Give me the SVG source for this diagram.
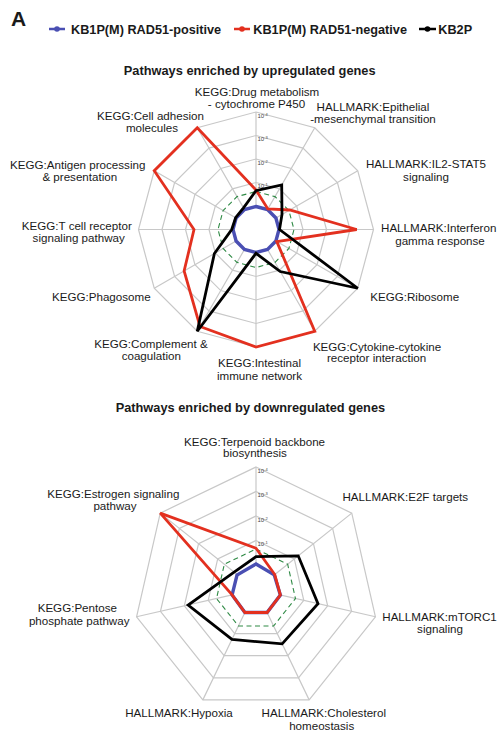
<svg xmlns="http://www.w3.org/2000/svg" width="497" height="732" viewBox="0 0 497 732">
<style>
text{font-family:"Liberation Sans",Arial,sans-serif;fill:#1a1a1a}
.lbl{font-size:11.6px;text-anchor:middle}
.ttl{font-size:12.8px;font-weight:bold;text-anchor:middle}
.leg{font-size:12.7px;font-weight:bold}
.tick{font-size:6px;fill:#444}
.tick tspan{font-size:4px}
.grid{fill:none;stroke:#c8c8c8;stroke-width:1.2}
.thr{fill:none;stroke:#2f8a45;stroke-width:1.1;stroke-dasharray:5 3.5}
.s{fill:none;stroke-width:2.8;stroke-linejoin:miter}
.blue{stroke:#4a4fb3;stroke-width:3.4}
.red{stroke:#e3301f}
.blk{stroke:#000}
</style>
<rect width="497" height="732" fill="#fff"/>
<text x="11" y="26" style="font-size:21px;font-weight:bold">A</text>
<g id="legend">
<line x1="49" y1="29" x2="65" y2="29" stroke="#4a4fb3" stroke-width="2.5"/><circle cx="57" cy="29" r="2.8" fill="#4a4fb3"/>
<text class="leg" x="71" y="33.5">KB1P(M) RAD51-positive</text>
<line x1="234" y1="29" x2="250" y2="29" stroke="#e3301f" stroke-width="2.5"/><circle cx="242" cy="29" r="2.8" fill="#e3301f"/>
<text class="leg" x="253.3" y="33.5">KB1P(M) RAD51-negative</text>
<line x1="419" y1="29" x2="436" y2="29" stroke="#000" stroke-width="2.5"/><circle cx="427.5" cy="29" r="2.8" fill="#000"/>
<text class="leg" x="438.3" y="33.5">KB2P</text>
</g>

<g id="radar-up">
<text class="ttl" x="249.7" y="74.5">Pathways enriched by upregulated genes</text>
<g id="grid-up">
<polygon class="grid" points="256,112 314.75,127.74 357.76,170.75 373.5,229.5 357.76,288.25 314.75,331.26 256,347 197.25,331.26 154.24,288.25 138.5,229.5 154.24,170.75 197.25,127.74"/>
<polygon class="grid" points="256,135.5 303,148.1 337.4,182.5 350,229.5 337.4,276.5 303,310.9 256,323.5 209,310.9 174.6,276.5 162,229.5 174.6,182.5 209,148.1"/>
<polygon class="grid" points="256,159 291.25,168.45 317.05,194.25 326.5,229.5 317.05,264.75 291.25,290.55 256,300 220.75,290.55 194.95,264.75 185.5,229.5 194.95,194.25 220.75,168.45"/>
<polygon class="grid" points="256,182.5 279.5,188.8 296.7,206 303,229.5 296.7,253 279.5,270.2 256,276.5 232.5,270.2 215.3,253 209,229.5 215.3,206 232.5,188.8"/>
<polygon class="grid" points="256,206 267.75,209.15 276.35,217.75 279.5,229.5 276.35,241.25 267.75,249.85 256,253 244.25,249.85 235.65,241.25 232.5,229.5 235.65,217.75 244.25,209.15"/>
<path class="grid" d="M256,206V112 M267.75,209.15L314.75,127.74 M276.35,217.75L357.76,170.75 M279.5,229.5H373.5 M276.35,241.25L357.76,288.25 M267.75,249.85L314.75,331.26 M256,253V347 M244.25,249.85L197.25,331.26 M235.65,241.25L154.24,288.25 M232.5,229.5H138.5 M235.65,217.75L154.24,170.75 M244.25,209.15L197.25,127.74"/>
</g>
<g id="ticks-up">
<text class="tick" x="257.5" y="117.5">10<tspan dy="-2">-4</tspan></text>
<text class="tick" x="257.5" y="141">10<tspan dy="-2">-3</tspan></text>
<text class="tick" x="257.5" y="164.5">10<tspan dy="-2">-2</tspan></text>
<text class="tick" x="257.5" y="188">10<tspan dy="-2">-1</tspan></text>
</g>
<g id="series-up">
<polygon class="thr" points="256,191.5 275,196.6 288.9,210.5 294,229.5 288.9,248.5 275,262.4 256,267.5 237,262.4 223.1,248.5 218,229.5 223.1,210.5 237,196.6"/>
<polygon class="s blue" points="256,206.5 267.5,209.6 275.9,218 279,229.5 275.9,241 267.5,249.4 256,252.5 244.5,249.4 236.1,241 233,229.5 236.1,218 244.5,209.6"/>
<polygon class="s red" points="256,190 267.85,208.97 289.77,210 356.7,229.5 276.78,241.5 314.75,331.26 256,347 200,326.5 184.12,271 194,229.5 154.24,170.75 197.25,127.74"/>
<polygon class="s blk" points="256,190.7 281.7,185 282,214.5 279.5,229.5 357.76,288.25 280.25,271.5 256,253.3 197.25,331.26 214.4,253.5 231.7,229.5 235.65,217.75 243.5,207.85"/>
</g>
<g id="labels-up">
<g id="n-drug"><text class="lbl" x="257" y="96">KEGG:Drug metabolism</text><text class="lbl" x="256.5" y="107.5">- cytochrome P450</text></g>
<g id="n-emt"><text class="lbl" x="373" y="110.7">HALLMARK:Epithelial</text><text class="lbl" x="373" y="123">-mesenchymal transition</text></g>
<g id="n-il2"><text class="lbl" x="426" y="168.3">HALLMARK:IL2-STAT5</text><text class="lbl" x="426" y="180.7">signaling</text></g>
<g id="n-ifn"><text class="lbl" x="438.7" y="232.3">HALLMARK:Interferon</text><text class="lbl" x="440" y="245">gamma response</text></g>
<g id="n-ribo"><text class="lbl" x="414.7" y="300.7">KEGG:Ribosome</text></g>
<g id="n-cyto"><text class="lbl" x="377" y="350.7">KEGG:Cytokine-cytokine</text><text class="lbl" x="376.5" y="362.3">receptor interaction</text></g>
<g id="n-int"><text class="lbl" x="259.5" y="367.3">KEGG:Intestinal</text><text class="lbl" x="259.5" y="380">immune network</text></g>
<g id="n-comp"><text class="lbl" x="151" y="348">KEGG:Complement &amp;</text><text class="lbl" x="151.3" y="360">coagulation</text></g>
<g id="n-phago"><text class="lbl" x="101.3" y="300.7">KEGG:Phagosome</text></g>
<g id="n-tcell"><text class="lbl" x="76.8" y="230">KEGG:T cell receptor</text><text class="lbl" x="78.7" y="241.7">signaling pathway</text></g>
<g id="n-antigen"><text class="lbl" x="77.7" y="169">KEGG:Antigen processing</text><text class="lbl" x="79.8" y="180.7">&amp; presentation</text></g>
<g id="n-cam"><text class="lbl" x="150.5" y="120">KEGG:Cell adhesion</text><text class="lbl" x="152" y="132.3">molecules</text></g>
</g>
</g>

<g id="radar-down">
<text class="ttl" x="250.4" y="411.5">Pathways enriched by downregulated genes</text>
<g id="grid-down">
<polygon class="grid" points="256,467 351.77,513.12 375.43,616.76 309.15,699.87 202.85,699.87 136.57,616.76 160.23,513.12"/>
<polygon class="grid" points="256,491.5 332.62,528.4 351.54,611.31 298.52,677.8 213.48,677.8 160.46,611.31 179.38,528.4"/>
<polygon class="grid" points="256,516 313.46,543.67 327.66,605.85 287.89,655.72 224.11,655.72 184.34,605.85 198.54,543.67"/>
<polygon class="grid" points="256,540.5 294.31,558.95 303.77,600.4 277.26,633.65 234.74,633.65 208.23,600.4 217.69,558.95"/>
<polygon class="grid" points="256,565 275.15,574.22 279.89,594.95 266.63,611.57 245.37,611.57 232.11,594.95 236.85,574.22"/>
<path class="grid" d="M256,565V467 M275.15,574.22L351.77,513.12 M279.89,594.95L375.43,616.76 M266.63,611.57L309.15,699.87 M245.37,611.57L202.85,699.87 M232.11,594.95L136.57,616.76 M236.85,574.22L160.23,513.12"/>
</g>
<g id="ticks-down">
<text class="tick" x="257.5" y="472.5">10<tspan dy="-2">-4</tspan></text>
<text class="tick" x="257.5" y="497">10<tspan dy="-2">-3</tspan></text>
<text class="tick" x="257.5" y="521.5">10<tspan dy="-2">-2</tspan></text>
<text class="tick" x="257.5" y="546">10<tspan dy="-2">-1</tspan></text>
</g>
<g id="series-down">
<polygon class="thr" points="256,549 287.66,564.25 295.48,598.51 273.57,625.99 238.43,625.99 216.52,598.51 224.34,564.25"/>
<polygon class="s blue" points="256,564 274.2,574.8 280.37,595.06 267.06,612.48 244.94,612.48 232.11,594.95 237,575"/>
<polygon class="s red" points="256,548.3 274.76,574.54 280.37,595.06 267.06,612.48 244.94,612.48 232.11,594.95 160.23,513.12"/>
<polygon class="s blk" points="256,556.7 298.22,555.83 318,603.65 282.16,643.83 231.96,639.42 188.15,604.99 234.11,572.04"/>
</g>
<g id="labels-down">
<g id="n-terp"><text class="lbl" x="254.5" y="445.5">KEGG:Terpenoid backbone</text><text class="lbl" x="255" y="457.3">biosynthesis</text></g>
<g id="n-e2f"><text class="lbl" x="405.3" y="500.7">HALLMARK:E2F targets</text></g>
<g id="n-mtorc1"><text class="lbl" x="439.5" y="621.3">HALLMARK:mTORC1</text><text class="lbl" x="440" y="633.3">signaling</text></g>
<g id="n-chol"><text class="lbl" x="323.8" y="717.3">HALLMARK:Cholesterol</text><text class="lbl" x="321.7" y="729.7">homeostasis</text></g>
<g id="n-hyp"><text class="lbl" x="179" y="717.3">HALLMARK:Hypoxia</text></g>
<g id="n-pent"><text class="lbl" x="77.3" y="612.3">KEGG:Pentose</text><text class="lbl" x="79.2" y="624.7">phosphate pathway</text></g>
<g id="n-estr"><text class="lbl" x="113.3" y="498">KEGG:Estrogen signaling</text><text class="lbl" x="115" y="509.7">pathway</text></g>
</g>
</g>
</svg>
